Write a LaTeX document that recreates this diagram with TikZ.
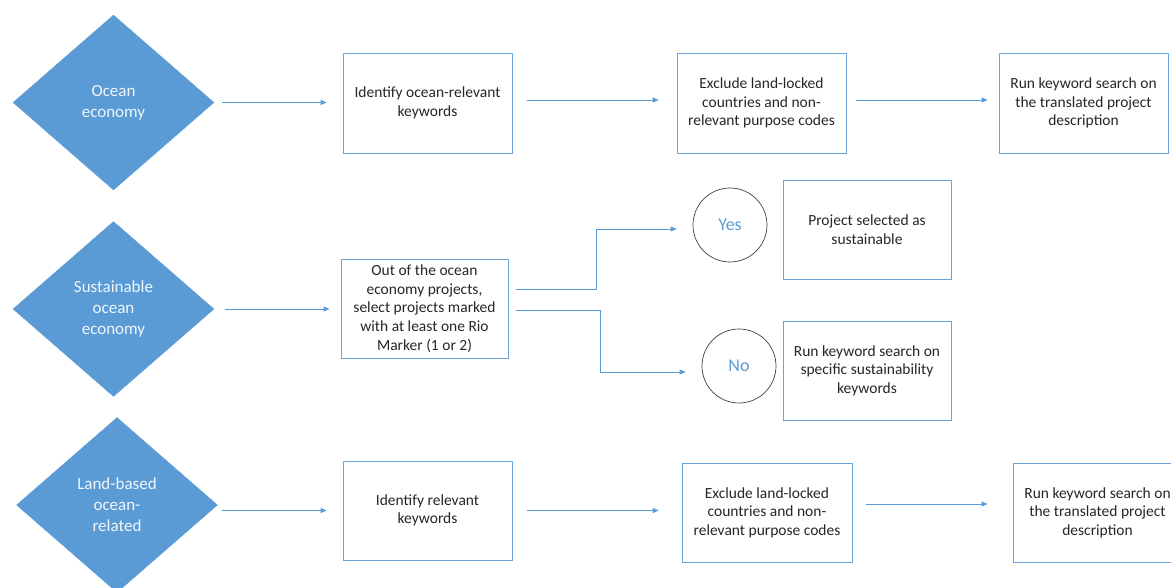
\documentclass[tikz,border=0pt]{standalone}
\usepackage{fontspec}
\setmainfont{Carlito}
\usetikzlibrary{shapes, positioning, arrows.meta, calc}
\definecolor{oceanblue}{HTML}{5B9BD5}
\definecolor{boxline}{HTML}{6FA3D8}

\begin{document}
\begin{tikzpicture}[x=1pt, y=-1pt,
    decision/.style={diamond, fill=oceanblue, draw=oceanblue, line width=0.3pt, minimum width=201pt, minimum height=175pt, inner sep=0pt, align=center, text=white!90!oceanblue, font=\fontsize{17}{21}\selectfont},
    stepbox/.style={rectangle, draw=boxline, line width=0.8pt, minimum width=169pt, minimum height=100pt, align=center, text=black!85, font=\fontsize{15.5}{18.6}\selectfont},
    answer/.style={circle, draw=black!75, line width=0.7pt, minimum size=74pt, inner sep=0pt, text=oceanblue, font=\fontsize{18}{20}\selectfont},
    flow/.style={draw=oceanblue, line width=0.8pt, -{Triangle[length=6pt, width=5pt]}}]

    \useasboundingbox (0,0) rectangle (1171,588);

    % ocean economy row
    \node[decision] (ocean) at (113.5, 102.5) {Ocean\\economy};
    \node[stepbox] (oceankw) at (427.5, 103) {Identify ocean-relevant\\keywords};
    \node[stepbox] (oceanexcl) at (761.5, 103) {Exclude land-locked\\countries and non-\\relevant purpose codes};
    \node[stepbox] (oceanrun) at (1083.5, 103) {Run keyword search on\\the translated project\\description};

    \draw[flow, shorten <=8pt, shorten >=16pt] (ocean.east) -- (ocean.east -| oceankw.west);
    \draw[flow, shorten <=15pt, shorten >=18pt] ([yshift=3pt]oceankw.east) -- ([yshift=3pt]oceanexcl.west);
    \draw[flow, shorten <=10pt, shorten >=11pt] ([yshift=3pt]oceanexcl.east) -- ([yshift=3pt]oceanrun.west);

    % sustainable row
    \node[decision] (sust) at (113.5, 309) {Sustainable\\ocean\\economy};
    \node[stepbox, minimum width=167pt, minimum height=99pt] (rio) at (424.5, 308.5) {Out of the ocean\\economy projects,\\select projects marked\\with at least one Rio\\Marker (1 or 2)};
    \node[answer] (yes) at (730, 225) {Yes};
    \node[answer] (no) at (739, 366) {No};
    \node[stepbox, minimum width=168pt, minimum height=99pt] (selected) at (867, 229.5) {Project selected as\\sustainable};
    \node[stepbox, minimum width=168pt, minimum height=99pt] (sustkw) at (867, 370.5) {Run keyword search on\\specific sustainability\\keywords};

    \draw[flow, shorten <=11pt, shorten >=11pt] (sust.east) -- (sust.east -| rio.west);
    \draw[flow, shorten <=8pt, shorten >=16pt] ([yshift=19.5pt]rio.east) -- ++(88,0) |- ([yshift=-4pt]yes.west);
    \draw[flow, shorten <=8pt, shorten >=16pt] ([yshift=-1.5pt]rio.east) -- ++(92,0) |- ([yshift=-6pt]no.west);

    % land-based row
    \node[decision] (land) at (117, 505) {Land-based\\ocean-\\related};
    \node[stepbox, minimum height=99pt] (landkw) at (427.5, 510.5) {Identify relevant\\keywords};
    \node[stepbox, minimum width=170pt, minimum height=99pt] (landexcl) at (767, 512.5) {Exclude land-locked\\countries and non-\\relevant purpose codes};
    \node[stepbox, minimum height=99pt] (landrun) at (1097.5, 512.5) {Run keyword search on\\the translated project\\description};

    \draw[flow, shorten <=4pt, shorten >=16pt] (land.east |- landkw.west) -- (landkw.west);
    \draw[flow, shorten <=15pt, shorten >=23pt] (landkw.east) -- (landkw.east -| landexcl.west);
    \draw[flow, shorten <=14pt, shorten >=25pt] ([yshift=8.5pt]landexcl.east) -- ([yshift=8.5pt]landrun.west);
\end{tikzpicture}
\end{document}
